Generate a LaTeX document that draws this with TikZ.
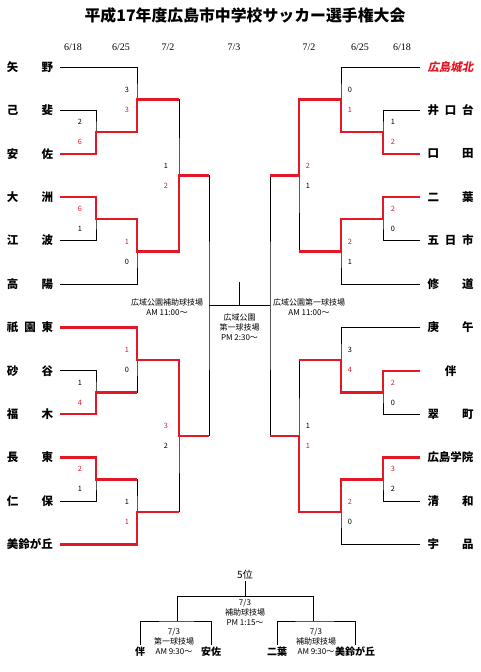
\documentclass[tikz,border=0pt]{standalone}
\usepackage{fontspec}
\setmainfont{Liberation Serif}
\newfontfamily\jp{Noto Sans CJK JP}
\newfontfamily\jpsl[FakeSlant=0.2]{Noto Sans CJK JP}
\definecolor{winred}{RGB}{226,24,36}
\newcommand\spreadname[1]{\makebox[34.5pt][s]{#1}}

\begin{document}
\begin{tikzpicture}[x=0.75pt,y=-0.75pt,
  ln/.style={draw=black,line width=0.75pt},
  win/.style={draw=winred,line width=1.9pt},
  team/.style={font=\jp\bfseries\fontsize{8.6pt}{10pt}\selectfont,inner xsep=5.25pt,inner ysep=1pt},
  small team/.style={font=\jp\bfseries\fontsize{7.5pt}{9pt}\selectfont,inner sep=1.5pt},
  date/.style={font=\fontsize{7.5pt}{9pt}\selectfont},
  sc/.style={font=\jp\fontsize{5.5pt}{6pt}\selectfont,inner sep=0pt},
  scw/.style={sc,text=winred},
  venue/.style={font=\jp\fontsize{6pt}{7.5pt}\selectfont,align=center,inner sep=0pt}]
\useasboundingbox (0,0) rectangle (481,672);

% title and dates
\node[font=\jp\bfseries\fontsize{11.9pt}{13pt}\selectfont] (title) at (245,15) {平成17年度広島市中学校サッカー選手権大会};
\node[date] (d1) at (73,47) {6/18};
\node[date] (d2) at (121,47) {6/25};
\node[date] (d3) at (168,47) {7/2};
\node[date] (d4) at (234,47) {7/3};
\node[date] (d5) at (309,47) {7/2};
\node[date] (d6) at (360,47) {6/25};
\node[date] (d7) at (402,47) {6/18};

% left teams
\node[team] (yano) at (30,67) {\spreadname{矢\hfil 野}};
\node[team] (koi) at (30,110.4) {\spreadname{己\hfil 斐}};
\node[team] (asa) at (30,153.8) {\spreadname{安\hfil 佐}};
\node[team] (ozu) at (30,197.2) {\spreadname{大\hfil 洲}};
\node[team] (eba) at (30,240.6) {\spreadname{江\hfil 波}};
\node[team] (koyo) at (30,284) {\spreadname{高\hfil 陽}};
\node[team] (gion) at (30,327.4) {\spreadname{祇\hfil 園\hfil 東}};
\node[team] (sunadani) at (30,370.8) {\spreadname{砂\hfil 谷}};
\node[team] (fukugi) at (30,414.2) {\spreadname{福\hfil 木}};
\node[team] (nagatsuka) at (30,457.6) {\spreadname{長\hfil 東}};
\node[team] (niho) at (30,501) {\spreadname{仁\hfil 保}};
\node[team] (misuzu) at (30,544.4) {\spreadname{美鈴が丘}};

% right teams
\node[team,font=\jpsl\bfseries\fontsize{8.6pt}{10pt}\selectfont,text=winred] (johoku) at (450.5,67) {\spreadname{広島城北}};
\node[team] (inokuchi) at (450.5,110.4) {\spreadname{井\hfil 口\hfil 台}};
\node[team] (kuchita) at (450.5,153.8) {\spreadname{口\hfil 田}};
\node[team] (futaba) at (450.5,197.2) {\spreadname{二\hfil 葉}};
\node[team] (itsukaichi) at (450.5,240.6) {\spreadname{五\hfil 日\hfil 市}};
\node[team] (shudo) at (450.5,284) {\spreadname{修\hfil 道}};
\node[team] (kogo) at (450.5,327.4) {\spreadname{庚\hfil 午}};
\node[team] (tomo) at (450.5,370.8) {\spreadname{\hfil 伴\hfil}};
\node[team] (midori) at (450.5,414.2) {\spreadname{翠\hfil 町}};
\node[team] (gakuin) at (450.5,457.6) {\spreadname{広島学院}};
\node[team] (seiwa) at (450.5,501) {\spreadname{清\hfil 和}};
\node[team] (ujina) at (450.5,544.4) {\spreadname{宇\hfil 品}};

% match points
\coordinate (l1a) at (96,132.1);   \coordinate (r1a) at (383,132.1);
\coordinate (l1b) at (96,218.9);   \coordinate (r1b) at (383,218.9);
\coordinate (l1c) at (96,392.5);   \coordinate (r1c) at (383,392.5);
\coordinate (l1d) at (96,479.3);   \coordinate (r1d) at (383,479.3);
\coordinate (l2a) at (137,99.55);  \coordinate (r2a) at (341,99.55);
\coordinate (l2b) at (137,251.45); \coordinate (r2b) at (341,251.45);
\coordinate (l2c) at (137,359.95); \coordinate (r2c) at (341,359.95);
\coordinate (l2d) at (137,511.85); \coordinate (r2d) at (341,511.85);
\coordinate (l3a) at (179,175.5);  \coordinate (r3a) at (299,175.5);
\coordinate (l3b) at (179,435.9);  \coordinate (r3b) at (299,435.9);
\coordinate (l4) at (209,305.7);   \coordinate (r4) at (270,305.7);
\coordinate (fin) at (239.5,305.7);
\coordinate (fintop) at (239.5,282);

% left bracket
\draw[ln] (koi.east) -| (l1a) |- (asa.east);
\draw[ln] (ozu.east) -| (l1b) |- (eba.east);
\draw[ln] (yano.east) -| (l2a) |- (l1a);
\draw[ln] (l1b) -| (l2b) |- (koyo.east);
\draw[ln] (l2a) -| (l3a) |- (l2b);
\draw[ln] (sunadani.east) -| (l1c) |- (fukugi.east);
\draw[ln] (nagatsuka.east) -| (l1d) |- (niho.east);
\draw[ln] (gion.east) -| (l2c) |- (l1c);
\draw[ln] (l1d) -| (l2d) |- (misuzu.east);
\draw[ln] (l2c) -| (l3b) |- (l2d);
\draw[ln] (l3a) -| (l4) |- (l3b);

% right bracket
\draw[ln] (inokuchi.west) -| (r1a) |- (kuchita.west);
\draw[ln] (futaba.west) -| (r1b) |- (itsukaichi.west);
\draw[ln] (johoku.west) -| (r2a) |- (r1a);
\draw[ln] (r1b) -| (r2b) |- (shudo.west);
\draw[ln] (r2a) -| (r3a) |- (r2b);
\draw[ln] (tomo.west) -| (r1c) |- (midori.west);
\draw[ln] (gakuin.west) -| (r1d) |- (seiwa.west);
\draw[ln] (kogo.west) -| (r2c) |- (r1c);
\draw[ln] (r1d) -| (r2d) |- (ujina.west);
\draw[ln] (r2c) -| (r3b) |- (r2d);
\draw[ln] (r3a) -| (r4) |- (r3b);

% final
\draw[ln] (l4) -- (r4);
\draw[ln] (fin) -- (fintop);

% winners
\draw[win] (asa.east) -| (l1a) -| (l2a) -- (l2a -| l3a);
\draw[win] (ozu.east) -| (l1b) -| (l2b) -| (l3a) -- (l3a -| l4);
\draw[win] (fukugi.east) -| (l1c) -- (l1c -| l2c);
\draw[win] (gion.east) -| (l2c) -| (l3b) -- (l3b -| l4);
\draw[win] (nagatsuka.east) -| (l1d) -- (l1d -| l2d);
\draw[win] (misuzu.east) -| (l2d) -- (l2d -| l3b);
\draw[win] (kuchita.west) -| (r1a) -| (r2a) -| (r3a) -- (r3a -| r4);
\draw[win] (futaba.west) -| (r1b) -| (r2b) -- (r2b -| r3a);
\draw[win] (tomo.west) -| (r1c) -| (r2c) -- (r2c -| r3b);
\draw[win] (gakuin.west) -| (r1d) -| (r2d) -| (r3b) -- (r3b -| r4);

% scores
\foreach \c/\dx/\t/\ts/\b/\bs in {
  l1a/-16/2/sc/6/scw, l1b/-16/6/scw/1/sc, l1c/-16/1/sc/4/scw, l1d/-16/2/scw/1/sc,
  l2a/-10/3/sc/3/scw, l2b/-10/1/scw/0/sc, l2c/-10/1/scw/0/sc, l2d/-10/1/sc/1/scw,
  l3a/-13/1/sc/2/scw, l3b/-13/3/scw/2/sc,
  r1a/10/1/sc/2/scw, r1b/10/2/scw/0/sc, r1c/10/2/scw/0/sc, r1d/10/3/scw/2/sc,
  r2a/9/0/sc/1/scw, r2b/9/2/scw/1/sc, r2c/9/3/sc/4/scw, r2d/9/2/scw/0/sc,
  r3a/9/2/scw/1/sc, r3b/9/1/sc/1/scw}
{
  \node[\ts] (\c-t) at ([shift={(\dx,-10)}]\c) {\t};
  \node[\bs] (\c-b) at ([shift={(\dx,10)}]\c) {\b};
}

% venues
\node[venue] (vl) at (167,307.5) {広域公園補助球技場\\AM 11:00～};
\node[venue] (vr) at (309,307.5) {広域公園第一球技場\\AM 11:00～};
\node[venue] (vc) at (239.5,327.5) {広域公園\\第一球技場\\PM 2:30～};

% 5th place
\node[font=\jp\fontsize{7.5pt}{9pt}\selectfont,inner sep=1pt] (fifth) at (245,575) {5位};
\coordinate (p5) at (245,596);
\coordinate (p5l) at (177,621);
\coordinate (p5r) at (313,621);
\node[small team] (tomo2) at (140,652) {伴};
\node[small team] (asa2) at (211,652) {安佐};
\node[small team] (futaba2) at (277,652) {二葉};
\node[small team] (misuzu2) at (355,652) {美鈴が丘};
\draw[ln] (fifth.south) -- (p5) -| (p5l);
\draw[ln] (p5) -| (p5r);
\draw[ln] (tomo2.north) |- (p5l) -| (asa2.north);
\draw[ln] (futaba2.north) |- (p5r) -| (misuzu2.north);
\node[venue] (v5) at (245,612.5) {7/3\\補助球技場\\PM 1:15～};
\node[venue] (v5l) at (174,641.5) {7/3\\第一球技場\\AM 9:30～};
\node[venue] (v5r) at (316,641.5) {7/3\\補助球技場\\AM 9:30～};
\end{tikzpicture}
\end{document}
